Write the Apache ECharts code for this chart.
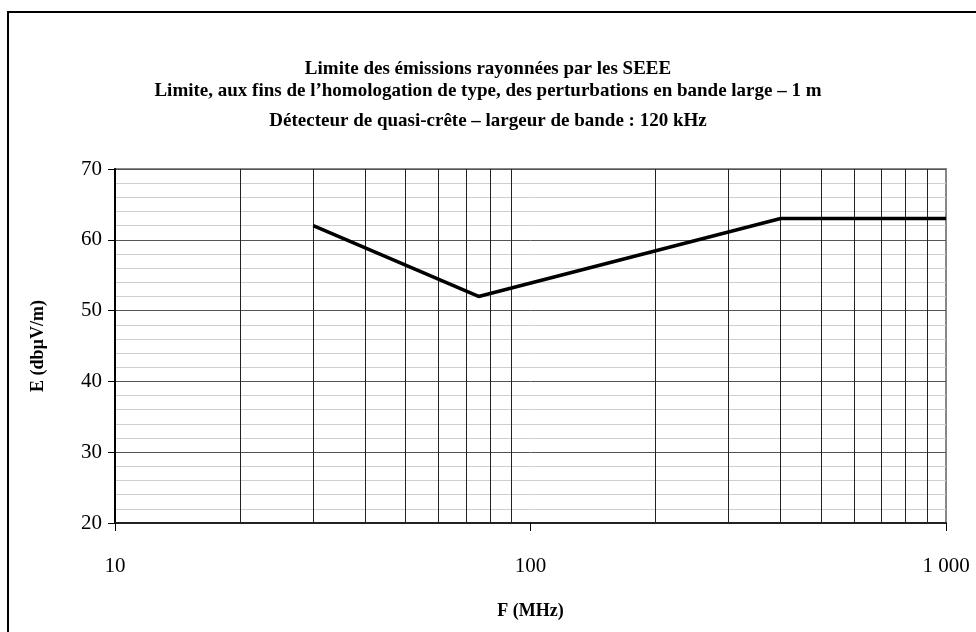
<!DOCTYPE html>
<html>
<head>
<meta charset="utf-8">
<script src="https://cdn.jsdelivr.net/npm/echarts@6/dist/echarts.min.js"></script>
<style>
html,body{margin:0;padding:0;background:#fff;}
#chart{width:976px;height:632px;}
</style>
</head>
<body>
<div id="chart"></div>
<script>
// Data
const titleLines = [
  "Limite des émissions rayonnées par les SEEE",
  "Limite, aux fins de l’homologation de type, des perturbations en bande large – 1 m",
  "Détecteur de quasi-crête – largeur de bande : 120 kHz"
];
const freqMHz = [30, 75, 400, 1000];
const limitDb = [62, 52, 63, 63];
const xGridValues = [20, 30, 40, 50, 60, 70, 80, 90, 200, 300, 400, 500, 600, 700, 800, 900];
const xTickValues = [10, 100, 1000];
const xTickLabels = ["10", "100", "1 000"];
const xName = "F (MHz)";
const yName = "E (dbµV/m)";

const FONT = "'Liberation Serif', 'Times New Roman', serif";
const chart = echarts.init(document.getElementById('chart'), null, {renderer: 'canvas'});

const lineData = freqMHz.map((f, i) => [f, limitDb[i]]);

chart.setOption({
  animation: false,
  backgroundColor: '#fff',
  graphic: [
    {type: 'rect', shape: {x: 8, y: 12, width: 1000, height: 700}, style: {fill: 'none', stroke: '#000', lineWidth: 2}, silent: true, z: -10},
    {type: 'text', x: 488, y: 69, style: {text: titleLines[0], font: "bold 19px " + FONT, fill: '#000', textAlign: 'center', textVerticalAlign: 'middle'}},
    {type: 'text', x: 488, y: 91, style: {text: titleLines[1], font: "bold 19px " + FONT, fill: '#000', textAlign: 'center', textVerticalAlign: 'middle'}},
    {type: 'text', x: 488, y: 121, style: {text: titleLines[2], font: "bold 19px " + FONT, fill: '#000', textAlign: 'center', textVerticalAlign: 'middle'}}
  ],
  grid: {left: 115, right: 30, top: 169, bottom: 109, show: true, borderColor: '#888', borderWidth: 2, backgroundColor: 'transparent'},
  xAxis: {
    type: 'log', logBase: 10, min: 10, max: 1000,
    name: xName, nameLocation: 'middle', nameGap: 79,
    nameTextStyle: {fontFamily: FONT, fontWeight: 'bold', fontSize: 18, color: '#000'},
    axisLine: {show: true, lineStyle: {color: '#222', width: 2}},
    axisTick: {show: true, length: 8, lineStyle: {color: '#000', width: 1}},
    axisLabel: {
      margin: 33, fontFamily: FONT, fontSize: 21, color: '#000',
      formatter: function (v) { const i = xTickValues.indexOf(Math.round(v)); return i >= 0 ? xTickLabels[i] : ''; }
    },
    splitLine: {show: false}
  },
  yAxis: {
    type: 'value', min: 20, max: 70, interval: 10,
    name: yName, nameLocation: 'middle', nameGap: 68, nameRotate: 90,
    nameTextStyle: {fontFamily: FONT, fontWeight: 'bold', fontSize: 18, color: '#000'},
    axisLine: {show: true, lineStyle: {color: '#000', width: 2}},
    axisTick: {show: true, length: 7, lineStyle: {color: '#000', width: 1}},
    axisLabel: {margin: 13, fontFamily: FONT, fontSize: 21, color: '#000'},
    splitLine: {show: true, lineStyle: {color: '#555', width: 1}},
    minorTick: {show: false, splitNumber: 5},
    minorSplitLine: {show: true, lineStyle: {color: '#cfcfcf', width: 1}}
  },
  series: [
    {
      type: 'line', data: [], silent: true,
      markLine: {
        silent: true, symbol: 'none', label: {show: false},
        lineStyle: {color: '#222', width: 1, type: 'solid'},
        data: xGridValues.map(v => ({xAxis: v}))
      },
      z: 1
    },
    {
      type: 'line', data: lineData, showSymbol: false, symbol: 'none',
      lineStyle: {color: '#000', width: 3.5}, itemStyle: {color: '#000'}, z: 5
    }
  ]
});
</script>
</body>
</html>
